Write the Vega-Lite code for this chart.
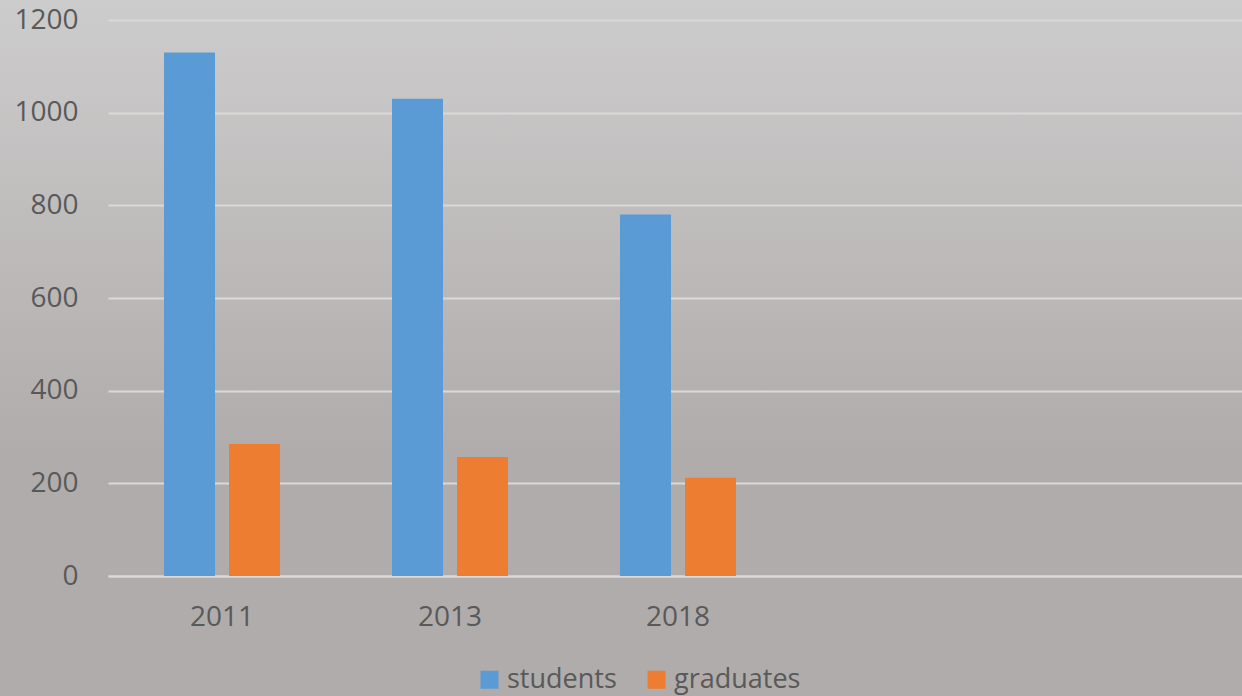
{
  "$schema": "https://vega.github.io/schema/vega-lite/v6.json",
  "width": 1242,
  "height": 696,
  "autosize": {"type": "none"},
  "padding": 0,
  "background": "#b0acab",
  "config": {
    "font": "Open Sans",
    "view": {
      "stroke": null,
      "fill": {
        "gradient": "linear",
        "x1": 0, "y1": 0, "x2": 0, "y2": 1,
        "stops": [
          {"offset": 0, "color": "#cdcccc"},
          {"offset": 0.65, "color": "#b0acab"},
          {"offset": 1, "color": "#b0acab"}
        ]
      }
    },
    "axis": {
      "labelFont": "Open Sans",
      "labelFontSize": 28,
      "labelColor": "#595959",
      "ticks": false,
      "title": null
    }
  },
  "data": {
    "values": [
      {"year": "2011", "series": "students", "value": 1130},
      {"year": "2011", "series": "graduates", "value": 285},
      {"year": "2013", "series": "students", "value": 1030},
      {"year": "2013", "series": "graduates", "value": 257},
      {"year": "2018", "series": "students", "value": 780},
      {"year": "2018", "series": "graduates", "value": 212}
    ]
  },
  "mark": {"type": "bar"},
  "encoding": {
    "x": {
      "field": "year",
      "type": "nominal",
      "scale": {
        "domain": ["2011", "2013", "2018", "e1", "e2"],
        "range": [108, 1248],
        "paddingInner": 0,
        "paddingOuter": 0
      },
      "axis": {
        "orient": "bottom",
        "offset": -120,
        "labelAngle": 0,
        "labelPadding": 27,
        "domainColor": "#d9d9d9",
        "domainWidth": 2,
        "grid": false,
        "labelExpr": "(datum.value == 'e1' || datum.value == 'e2') ? '' : datum.value"
      }
    },
    "xOffset": {
      "field": "series",
      "type": "nominal",
      "scale": {
        "domain": ["students", "graduates"],
        "paddingInner": 0.2154,
        "paddingOuter": 0.8615
      }
    },
    "y": {
      "field": "value",
      "type": "quantitative",
      "scale": {"domain": [0, 1200], "range": [576, 20], "nice": false},
      "axis": {
        "orient": "left",
        "offset": -108,
        "domain": false,
        "labelPadding": 30,
        "format": "d",
        "grid": true,
        "gridColor": "#d9d9d9",
        "gridWidth": 2,
        "values": [0, 200, 400, 600, 800, 1000, 1200]
      }
    },
    "color": {
      "field": "series",
      "type": "nominal",
      "scale": {"domain": ["students", "graduates"], "range": ["#5b9bd5", "#ed7d31"]},
      "legend": {
        "orient": "none",
        "legendX": 476,
        "legendY": 666,
        "direction": "horizontal",
        "title": null,
        "symbolType": "square",
        "symbolSize": 324,
        "symbolStrokeWidth": 0,
        "labelFont": "Open Sans",
        "labelFontSize": 27,
        "labelColor": "#595959",
        "labelOffset": 4,
        "columnPadding": 26
      }
    }
  }
}
